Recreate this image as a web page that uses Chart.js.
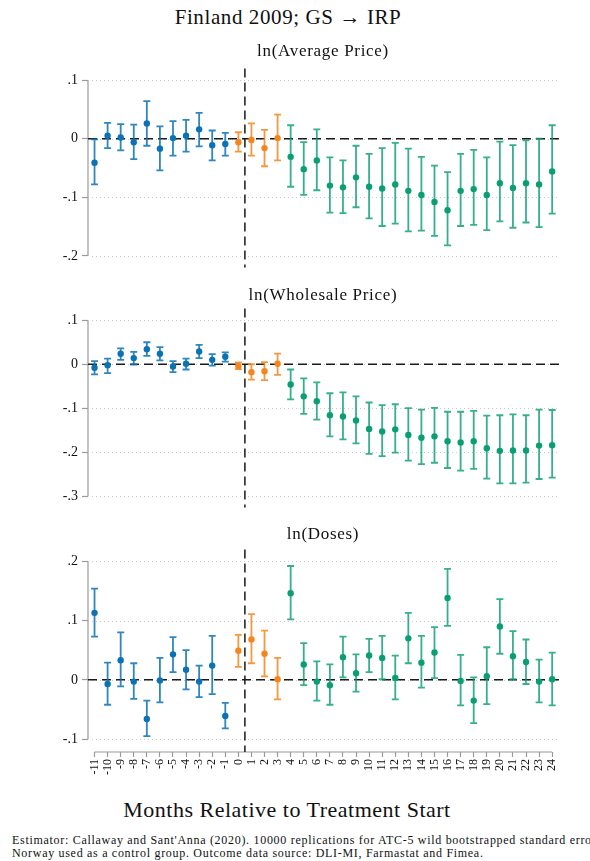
<!DOCTYPE html>
<html>
<head>
<meta charset="utf-8">
<script src="https://cdn.jsdelivr.net/npm/chart.js@4.4.0/dist/chart.umd.min.js"></script>
<style>
    body { margin: 0; width: 590px; height: 861px; background: #fff; position: relative; overflow: hidden;
           font-family: "Liberation Serif", "DejaVu Serif", serif; color: #111; }
    canvas { position: absolute; left: 0; }
    .txt { position: absolute; white-space: nowrap; line-height: 1; }
    .center { transform: translateX(-50%); }
</style>
</head>
<body>
<canvas id="avgChart" width="590" height="224" style="top:56px"></canvas>
<canvas id="wsChart" width="590" height="224" style="top:296px"></canvas>
<canvas id="dosesChart" width="590" height="253" style="top:537px"></canvas>

<div class="txt center" style="left:288px; top:7px; font-size:21px; letter-spacing:0.6px;">Finland 2009; GS &rarr; IRP</div>
<div class="txt center" style="left:323px; top:42px; font-size:17px; letter-spacing:0.7px;">ln(Average Price)</div>
<div class="txt center" style="left:323px; top:286px; font-size:17px; letter-spacing:0.7px;">ln(Wholesale Price)</div>
<div class="txt center" style="left:323px; top:525px; font-size:17px; letter-spacing:0.7px;">ln(Doses)</div>
<div class="txt center" style="left:287px; top:799px; font-size:22px; letter-spacing:0.5px;">Months Relative to Treatment Start</div>
<div class="txt" style="left:12px; top:834px; font-size:12px; letter-spacing:0.7px; line-height:13px;">Estimator: Callaway and Sant'Anna (2020). 10000 replications for ATC-5 wild bootstrapped standard errors.<br>Norway used as a control group. Outcome data source: DLI-MI, Farmastat and Fimea.</div>

<script>
// months relative to treatment start
const months = [-11, -10, -9, -8, -7, -6, -5, -4, -3, -2, -1, 0, 1, 2, 3, 4, 5, 6, 7, 8, 9, 10, 11, 12,
                13, 14, 15, 16, 17, 18, 19, 20, 21, 22, 23, 24];

// ln(Average Price)
const avgEst = [-0.041, 0.005, 0.002, -0.006, 0.026, -0.017, 0.001, 0.005, 0.016, -0.011, -0.009,
                -0.006, -0.002, -0.016, 0.001,
                -0.031, -0.052, -0.037, -0.080, -0.083, -0.066, -0.082, -0.085, -0.078, -0.089, -0.096,
                -0.108, -0.122, -0.089, -0.086, -0.096, -0.076, -0.084, -0.076, -0.078, -0.056];
const avgLo = [-0.078, -0.016, -0.020, -0.035, -0.012, -0.054, -0.029, -0.022, -0.013, -0.037, -0.029,
               -0.022, -0.029, -0.047, -0.037,
               -0.082, -0.096, -0.088, -0.126, -0.127, -0.117, -0.136, -0.149, -0.145, -0.158, -0.157,
               -0.166, -0.182, -0.149, -0.147, -0.156, -0.141, -0.152, -0.143, -0.151, -0.128];
const avgHi = [-0.001, 0.027, 0.025, 0.024, 0.064, 0.021, 0.030, 0.032, 0.044, 0.014, 0.010,
               0.011, 0.026, 0.015, 0.041,
               0.023, -0.006, 0.016, -0.032, -0.037, -0.012, -0.026, -0.016, -0.007, -0.017, -0.031,
               -0.046, -0.057, -0.026, -0.019, -0.032, -0.005, -0.011, -0.003, 0.000, 0.023];

// ln(Wholesale Price)
const wsEst = [-0.008, -0.002, 0.024, 0.014, 0.034, 0.024, -0.005, 0.001, 0.029, 0.010, 0.017,
               -0.004, -0.018, -0.016, 0.001,
               -0.046, -0.073, -0.084, -0.116, -0.119, -0.128, -0.147, -0.153, -0.148, -0.161, -0.167,
               -0.164, -0.175, -0.178, -0.175, -0.191, -0.197, -0.196, -0.196, -0.185, -0.184];
const wsLo = [-0.023, -0.020, 0.010, -0.001, 0.019, 0.009, -0.018, -0.012, 0.014, -0.003, 0.006,
              -0.011, -0.035, -0.036, -0.024,
              -0.080, -0.113, -0.126, -0.164, -0.171, -0.180, -0.204, -0.209, -0.201, -0.219, -0.227,
              -0.224, -0.236, -0.242, -0.238, -0.260, -0.271, -0.271, -0.269, -0.261, -0.258];
const wsHi = [0.007, 0.013, 0.036, 0.028, 0.050, 0.039, 0.007, 0.013, 0.044, 0.023, 0.027,
              0.004, 0.000, 0.005, 0.024,
              -0.012, -0.032, -0.041, -0.066, -0.064, -0.073, -0.087, -0.093, -0.091, -0.100, -0.103,
              -0.099, -0.108, -0.108, -0.106, -0.117, -0.116, -0.114, -0.116, -0.103, -0.104];

// ln(Doses)
const dosesEst = [0.113, -0.007, 0.033, -0.003, -0.066, -0.001, 0.043, 0.017, -0.003, 0.024, -0.061,
                  0.049, 0.068, 0.044, 0.001,
                  0.146, 0.026, -0.003, -0.009, 0.038, 0.011, 0.041, 0.037, 0.003, 0.070, 0.029,
                  0.046, 0.138, -0.002, -0.035, 0.006, 0.090, 0.040, 0.030, -0.003, 0.001];
const dosesLo = [0.073, -0.042, -0.011, -0.032, -0.095, -0.038, 0.013, -0.016, -0.029, -0.024, -0.082,
                 0.022, 0.028, 0.006, -0.033,
                 0.102, -0.009, -0.035, -0.042, 0.004, -0.020, 0.013, 0.001, -0.033, 0.028, -0.013,
                 0.003, 0.091, -0.043, -0.073, -0.041, 0.044, 0.001, -0.007, -0.038, -0.043];
const dosesHi = [0.154, 0.029, 0.080, 0.028, -0.035, 0.037, 0.072, 0.050, 0.024, 0.074, -0.039,
                 0.076, 0.111, 0.083, 0.037,
                 0.192, 0.062, 0.031, 0.026, 0.073, 0.043, 0.069, 0.074, 0.041, 0.113, 0.074,
                 0.089, 0.187, 0.042, 0.004, 0.055, 0.136, 0.082, 0.068, 0.034, 0.046];

// y tick values per panel
const avgTicks = [0.1, 0, -0.1, -0.2];
const wsTicks = [0.1, 0, -0.1, -0.2, -0.3];
const dosesTicks = [0.2, 0.1, 0, -0.1];

const TREATMENT_LINE = 0.5;   // dashed vertical between month 0 and 1

// pre-period, anticipation, post-period
const PHASE_COLORS = ['#0b72b5', '#f5861f', '#0a9e74'];
const BAR_COLORS = ['rgba(11,114,181,0.85)', 'rgba(245,134,31,0.85)', 'rgba(10,158,116,0.82)'];
const FONT = '"Liberation Serif", "DejaVu Serif", serif';

function phaseOf(m) {
    if (m < 0) return 0;
    if (m < 4) return 1;
    return 2;
}

/**
 * Stata style number labels: .1, -.2, 0
 */
function stataLabel(v) {
    if (v === 0) return '0';
    return (v < 0 ? '-' : '') + String(Math.abs(v)).replace(/^0/, '');
}

/**
 * Draws the dotted grid, axis lines, zero / treatment lines and the CI bars.
 */
const eventStudyPlugin = {
    id: 'eventStudy',
    beforeDatasetsDraw(chart) {
        const opts = chart.options.plugins.eventStudy;
        const { ctx, chartArea: area, scales: { x, y } } = chart;
        ctx.save();

        // dotted grid
        ctx.strokeStyle = '#c8c8c8';
        ctx.lineWidth = 1;
        ctx.setLineDash([1, 3]);
        opts.ticks.forEach(t => {
            const py = Math.round(y.getPixelForValue(t)) + 0.5;
            ctx.beginPath();
            ctx.moveTo(area.left + 4, py);
            ctx.lineTo(area.right, py);
            ctx.stroke();
        });

        // axis lines, only over the tick range
        ctx.setLineDash([]);
        ctx.strokeStyle = '#9a9a9a';
        ctx.lineWidth = 1.2;
        ctx.beginPath();
        ctx.moveTo(area.left, y.getPixelForValue(Math.max(...opts.ticks)));
        ctx.lineTo(area.left, y.getPixelForValue(Math.min(...opts.ticks)));
        ctx.stroke();
        if (opts.xAxis) {
            ctx.beginPath();
            ctx.moveTo(x.getPixelForValue(months[0]), area.bottom);
            ctx.lineTo(x.getPixelForValue(months[months.length - 1]), area.bottom);
            ctx.stroke();
        }

        // reference lines
        ctx.strokeStyle = '#1a1a1a';
        ctx.lineWidth = 1.5;
        ctx.setLineDash([9, 5]);
        const y0 = y.getPixelForValue(0);
        ctx.beginPath();
        ctx.moveTo(area.left, y0);
        ctx.lineTo(area.right, y0);
        ctx.stroke();
        const xt = x.getPixelForValue(TREATMENT_LINE);
        ctx.beginPath();
        ctx.moveTo(xt, area.top);
        ctx.lineTo(xt, area.bottom);
        ctx.stroke();

        // confidence intervals with caps
        ctx.setLineDash([]);
        ctx.lineWidth = 1.8;
        months.forEach((m, i) => {
            const px = x.getPixelForValue(m);
            const yLo = y.getPixelForValue(opts.lo[i]);
            const yHi = y.getPixelForValue(opts.hi[i]);
            ctx.strokeStyle = BAR_COLORS[phaseOf(m)];
            ctx.beginPath();
            ctx.moveTo(px, yLo);
            ctx.lineTo(px, yHi);
            ctx.moveTo(px - 3.5, yLo);
            ctx.lineTo(px + 3.5, yLo);
            ctx.moveTo(px - 3.5, yHi);
            ctx.lineTo(px + 3.5, yHi);
            ctx.stroke();
        });
        ctx.restore();
    }
};

/**
 * Builds one panel: three scatter datasets (one per phase) over the shared month axis.
 */
function buildPanel(canvasId, est, lo, hi, ticks, yMin, yMax, showX) {
    const datasets = [0, 1, 2].map(ph => ({
        data: months.map((m, i) => ({ x: m, y: est[i] })).filter(p => phaseOf(p.x) === ph),
        backgroundColor: PHASE_COLORS[ph],
        borderColor: PHASE_COLORS[ph],
        borderWidth: 0,
        pointRadius: 3.2,
        pointHoverRadius: 3.2
    }));

    const config = {
        type: 'scatter',
        data: { datasets },
        options: {
            responsive: false,
            animation: false,
            devicePixelRatio: 1,
            layout: { padding: { top: 10, bottom: showX ? 0 : 10, left: 0, right: 30 } },
            scales: {
                x: {
                    type: 'linear', min: -11.5, max: 24.6,
                    display: showX,
                    afterBuildTicks: s => { s.ticks = months.map(v => ({ value: v })); },
                    afterFit: s => { s.height = showX ? 38 : 0; },
                    border: { display: false },
                    grid: { drawOnChartArea: false, drawTicks: true, tickLength: 5, tickColor: '#9a9a9a', tickWidth: 1.2 },
                    ticks: {
                        autoSkip: false, minRotation: 90, maxRotation: 90, padding: 2,
                        color: '#111', font: { family: FONT, size: 12 },
                        callback: v => String(v)
                    }
                },
                y: {
                    min: yMin, max: yMax,
                    afterBuildTicks: s => { s.ticks = ticks.map(v => ({ value: v })); },
                    afterFit: s => { s.width = 88; },
                    border: { display: false },
                    grid: { drawOnChartArea: false, drawTicks: true, tickLength: 6, tickColor: '#9a9a9a', tickWidth: 1.2 },
                    ticks: {
                        padding: 4, color: '#111', font: { family: FONT, size: 14 },
                        callback: v => stataLabel(v)
                    }
                }
            },
            plugins: {
                legend: { display: false },
                tooltip: { enabled: false },
                eventStudy: { lo, hi, ticks, xAxis: showX }
            }
        },
        plugins: [eventStudyPlugin]
    };
    return new Chart(document.getElementById(canvasId).getContext('2d'), config);
}

buildPanel('avgChart', avgEst, avgLo, avgHi, avgTicks, -0.22, 0.12, false);
buildPanel('wsChart', wsEst, wsLo, wsHi, wsTicks, -0.326, 0.127, false);
buildPanel('dosesChart', dosesEst, dosesLo, dosesHi, dosesTicks, -0.1217, 0.22, true);
</script>
</body>
</html>
